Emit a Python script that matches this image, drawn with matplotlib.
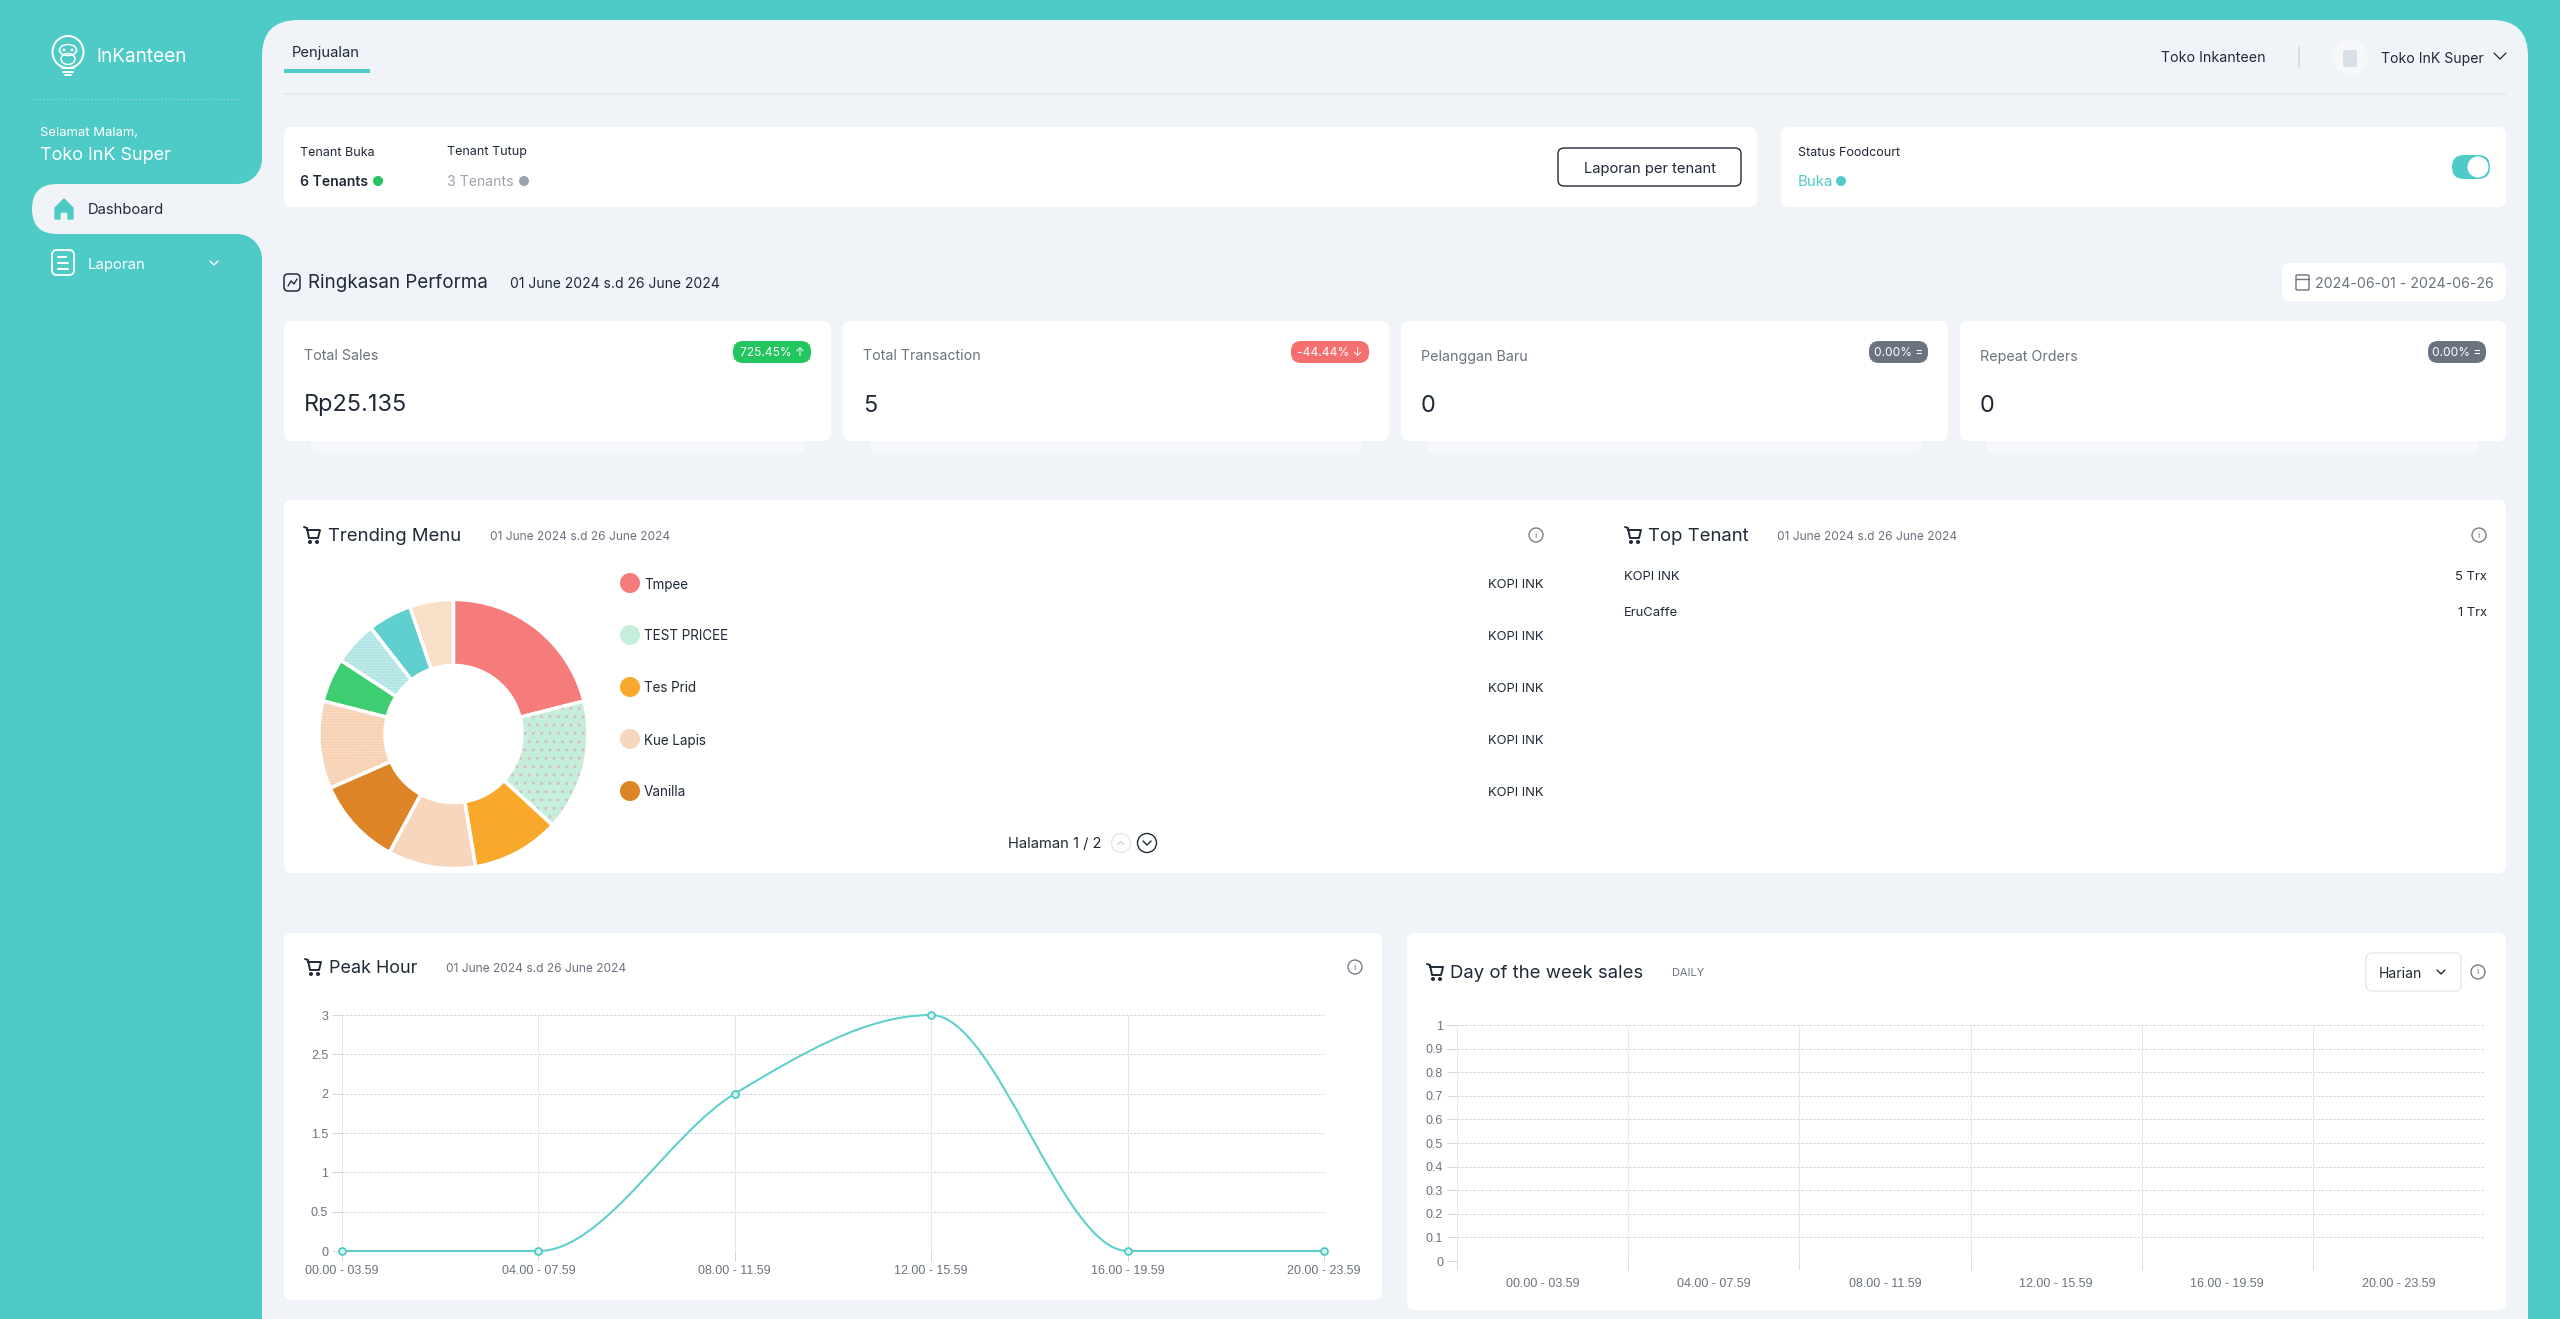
import matplotlib
matplotlib.use('Agg')
import matplotlib.pyplot as plt
from matplotlib.patches import FancyBboxPatch, Circle, Ellipse, Rectangle, PathPatch, Polygon
from matplotlib.path import Path

W, H = 2560, 1319
TEAL = '#4fcbc7'
PANEL = '#f0f4f9'
DARK = '#1f2937'
GREY = '#6b7280'
UI_FONT = 'Inter'
CHART_FONT = 'Liberation Sans'

# chart data
menu_names = ['Tmpee', 'TEST PRICEE', 'Tes Prid', 'Kue Lapis', 'Vanilla']
menu_sold = [4, 3, 2, 2, 2, 2, 1, 1, 1, 1]
menu_colors = ['#f67b7b', '#c6efdb', '#f8a92b', '#f6d6bc', '#dd8526',
               '#fbdcc3', '#3fcd72', '#c8ecec', '#5fcfcf', '#f8dfc8']
menu_hatch = {1: '..', 5: '......', 7: '......'}
menu_hatch_color = {1: '#d5bcc6', 5: '#f3c7a5', 7: '#9adcdc'}

hour_labels = ['00.00 - 03.59', '04.00 - 07.59', '08.00 - 11.59',
               '12.00 - 15.59', '16.00 - 19.59', '20.00 - 23.59']
peak_values = [0, 0, 2, 3, 0, 0]
peak_ticks = [0, 0.5, 1, 1.5, 2, 2.5, 3]
peak_tick_labels = ['0', '0.5', '1', '1.5', '2', '2.5', '3']
day_ticks = [0, 0.1, 0.2, 0.3, 0.4, 0.5, 0.6, 0.7, 0.8, 0.9, 1]
day_tick_labels = ['0', '0.1', '0.2', '0.3', '0.4', '0.5', '0.6', '0.7', '0.8', '0.9', '1']

top_tenants = ['KOPI INK', 'EruCaffe']
top_tenant_trx = ['5 Trx', '1 Trx']

kpi_names = ['Total Sales', 'Total Transaction', 'Pelanggan Baru', 'Repeat Orders']
kpi_values = ['Rp25.135', '5', '0', '0']
kpi_badges = ['725.45% ↑', '-44.44% ↓', '0.00% =', '0.00% =']

fig = plt.figure(figsize=(W / 100, H / 100), dpi=100, facecolor=TEAL)
ui = fig.add_axes([0, 0, 1, 1])
ui.set_xlim(0, W)
ui.set_ylim(H, 0)
ui.axis('off')


def card(x0, y0, x1, y1, color='white', r=8, ec='none', lw=0, z=2):
    ui.add_patch(FancyBboxPatch((x0, y0), x1 - x0, y1 - y0,
                                boxstyle='round,pad=0,rounding_size=%g' % r,
                                fc=color, ec=ec, lw=lw, zorder=z))


def label(x, y, s, px=14, color=DARK, ha='left', weight='normal', z=6):
    return ui.text(x, y + 1.5, s, fontsize=px * 0.72, color=color, ha=ha, va='center',
                   fontweight=weight, family=[UI_FONT, 'DejaVu Sans'], zorder=z)


def dot(x, y, r, color, z=5):
    ui.add_patch(Circle((x, y), r, fc=color, ec='none', zorder=z))


def line(xs, ys, color=DARK, lw=1.2, z=5, **kw):
    ui.plot(xs, ys, color=color, lw=lw, zorder=z, solid_capstyle='round', **kw)


def chevron(x, y, size=5, color=DARK, lw=1.1, up=False):
    s = -1 if up else 1
    line([x - size, x, x + size], [y - s * size / 2, y + s * size / 2, y - s * size / 2], color, lw)


def cart(x, y):
    # x, y is the icon's top left
    line([x, x + 3, x + 5, x + 14, x + 16, x + 3],
         [y, y + 1, y + 11, y + 11, y + 3, y + 3], DARK, 1.4)
    dot(x + 6, y + 15, 2, DARK)
    dot(x + 13, y + 15, 2, DARK)


def info(x, y):
    ui.add_patch(Circle((x, y), 7, fc='none', ec='#6b7280', lw=0.9, zorder=5))
    label(x, y - 1.5, 'i', 9, GREY, ha='center')


# main panel and sidebar shapes
card(262, 20, 2528, 1400, PANEL, r=36, z=1)
card(32, 184, 300, 234, PANEL, r=25, z=1)
ui.add_patch(Rectangle((237, 159), 25, 25, fc=PANEL, ec='none', zorder=1))
ui.add_patch(Rectangle((237, 234), 25, 25, fc=PANEL, ec='none', zorder=1))
dot(237, 159, 25, TEAL, z=1.5)
dot(237, 259, 25, TEAL, z=1.5)

# sidebar: monkey bulb logo
ui.add_patch(Ellipse((68, 52), 31, 32, fc='none', ec='white', lw=1.4, zorder=5))
ui.add_patch(Ellipse((68, 50), 17, 11, fc='none', ec='white', lw=1.1, zorder=5))
ui.add_patch(Ellipse((68, 59), 14, 11, fc='none', ec='white', lw=1.1, zorder=5))
dot(64, 50, 1.5, 'white')
dot(72, 50, 1.5, 'white')
line([62, 74], [68, 68], 'white', 1.4)
line([63, 73], [71.5, 71.5], 'white', 1.4)
line([65, 71], [75, 75], 'white', 1.4)
label(96, 55, 'InKanteen', 19, 'white')
line([32, 241], [99, 99], '#86dcd8', 1, linestyle=':')
label(40, 132, 'Selamat Malam,', 13, 'white')
label(40, 154, 'Toko InK Super', 18, 'white')
ui.add_patch(Polygon([(55, 208), (64, 199), (73, 208), (73, 219), (68, 219), (68, 212),
                      (60, 212), (60, 219), (55, 219)], fc=TEAL, ec=TEAL, lw=1, zorder=5))
label(88, 209, 'Dashboard', 14.8)
card(52, 250, 74, 275, 'none', r=5, ec='white', lw=1.3, z=5)
line([58, 66], [257, 257], 'white', 1.5)
line([58, 68], [263, 263], 'white', 1.5)
line([58, 68], [269, 269], 'white', 1.5)
label(88, 263, 'Laporan', 15, 'white')
chevron(214, 263, 4, 'white', 1)

# top bar
label(292, 51, 'Penjualan', 14.8)
ui.add_patch(Rectangle((284, 69), 86, 4, fc=TEAL, ec='none', zorder=5))
ui.add_patch(Rectangle((284, 93), 2222, 2, fc='#e5e9ee', ec='none', zorder=3))
label(2161, 57, 'Toko Inkanteen', 14.2)
line([2299, 2299], [47, 67], '#d5d9df', 1.2)
dot(2350, 57, 18, '#f6f8fa', z=3)
card(2343, 50, 2357, 67, '#d9dfe7', r=2, z=4)
label(2381, 57, 'Toko InK Super', 14)
chevron(2500, 56, 6, DARK, 0.9)

# status cards
card(284, 127, 1757, 207)
label(300, 151, 'Tenant Buka', 12.5)
label(300, 181, '6 Tenants', 14, weight='semibold')
dot(378, 181, 5, '#22c55e')
label(447, 151, 'Tenant Tutup', 12.5)
label(447, 181, '3 Tenants', 14, '#9ca3af')
dot(524, 181, 5, '#9ca3af')
card(1558, 148, 1741, 186, 'white', r=6, ec=DARK, lw=1, z=3)
label(1650, 167, 'Laporan per tenant', 14.7, ha='center')

card(1781, 127, 2506, 207)
label(1798, 151, 'Status Foodcourt', 12.5)
label(1798, 181, 'Buka', 15, TEAL)
dot(1841, 181, 5, TEAL)
card(2452, 155, 2490, 179, TEAL, r=12, z=3)
dot(2478, 167, 10.5, 'white')

# performance summary
card(284, 274, 300, 291, 'none', r=4, ec=DARK, lw=1.1, z=5)
line([288, 291, 294, 297], [286, 281, 284, 279], DARK, 1)
label(308, 282, 'Ringkasan Performa', 18.8)
label(510, 282, '01 June 2024 s.d 26 June 2024', 13.9)
card(2282, 263, 2506, 301)
card(2296, 275, 2309, 290, 'none', r=1, ec=GREY, lw=1, z=5)
line([2296, 2309], [279, 279], GREY, 1)
label(2315, 282, '2024-06-01 - 2024-06-26', 14.1, GREY)

kpi_x0 = [284, 843, 1401, 1960]
kpi_x1 = [831, 1389, 1948, 2506]
badge_x0 = [733, 1291, 1869, 2428]
badge_x1 = [811, 1369, 1928, 2486]
badge_colors = ['#22c55e', '#f66f6f', GREY, GREY]
for i in range(4):
    card(kpi_x0[i] + 27, 430, kpi_x1[i] - 27, 453, '#f6f8fb', r=6, z=1.6)
    card(kpi_x0[i], 321, kpi_x1[i], 441)
    label(kpi_x0[i] + 20, 355, kpi_names[i], 14.3, GREY)
    label(kpi_x0[i] + 20, 404, kpi_values[i], 23.5)
    card(badge_x0[i], 341, badge_x1[i], 363, badge_colors[i], r=10, z=3)
    label((badge_x0[i] + badge_x1[i]) / 2, 351, kpi_badges[i], 12, 'white', ha='center')

# trending menu and top tenant
card(284, 500, 2506, 873)
cart(304, 527)
label(328, 535, 'Trending Menu', 18.5)
label(490, 535, '01 June 2024 s.d 26 June 2024', 12, GREY)
info(1536, 535)

pie_ax = fig.add_axes([(453.5 - 134.5) / W, 1 - (734 + 134.5) / H, 269 / W, 269 / H])
wedges, _ = pie_ax.pie(menu_sold, colors=menu_colors, startangle=90, counterclock=False, radius=1,
                       wedgeprops=dict(width=0.49, linewidth=0))
matplotlib.rcParams['hatch.linewidth'] = 0.4
for i, hatch in menu_hatch.items():
    wedges[i].set_hatch(hatch)
    wedges[i].set_edgecolor(menu_hatch_color[i])
pie_ax.pie(menu_sold, colors=['none'] * len(menu_sold), startangle=90, counterclock=False, radius=1,
           wedgeprops=dict(width=0.49, linewidth=2.4, edgecolor='white'))
pie_ax.set_xlim(-1.0, 1.0)
pie_ax.set_ylim(-1.0, 1.0)

legend_y = [583, 635, 687, 739, 791]
for i, name in enumerate(menu_names):
    dot(630, legend_y[i], 10, menu_colors[i])
    label(644, legend_y[i], name, 13.5)
    label(1543, legend_y[i], 'KOPI INK', 13, ha='right')

label(1008, 843, 'Halaman 1 / 2', 14.7)
ui.add_patch(Circle((1121, 843), 9.5, fc='none', ec='#e5e7eb', lw=1, zorder=5))
chevron(1121, 843, 3, '#d1d5db', 0.9, up=True)
ui.add_patch(Circle((1147, 843), 9.5, fc='none', ec=DARK, lw=1, zorder=5))
chevron(1147, 843, 4, DARK, 1)

cart(1625, 527)
label(1648, 535, 'Top Tenant', 18.5)
label(1777, 535, '01 June 2024 s.d 26 June 2024', 12, GREY)
info(2479, 535)
tenant_y = [575, 611]
for i in range(len(top_tenants)):
    label(1624, tenant_y[i], top_tenants[i], 13)
    label(2487, tenant_y[i], top_tenant_trx[i], 13, ha='right')

# peak hour
card(284, 933, 1382, 1300)
cart(305, 959)
label(329, 967, 'Peak Hour', 18)
label(446, 967, '01 June 2024 s.d 26 June 2024', 12, GREY)
info(1355, 967)


def chart_axes(x0, y0, x1, y1):
    ax = fig.add_axes([x0 / W, 1 - y1 / H, (x1 - x0) / W, (y1 - y0) / H], facecolor='none')
    for side in ['top', 'right', 'bottom', 'left']:
        ax.spines[side].set_visible(False)
    ax.set_axisbelow(True)
    ax.tick_params(axis='both', labelsize=9, labelcolor=GREY, color='#d1d5db', width=0.7, length=7, pad=3)
    return ax


def style_grid(ax, ticks, x_positions):
    for t in ticks:
        ax.axhline(t, color='#c3ccd8' if t else '#9aa2ad', lw=0.72, linestyle=(0, (2, 2)), zorder=1)
    for xp in x_positions:
        ax.axvline(xp, color='#e5e7eb', lw=0.7, zorder=1)


def monotone_path(ys):
    # same curve the web chart uses: monotone cubic through the values
    xs = list(range(len(ys)))
    sec = [ys[i + 1] - ys[i] for i in range(len(ys) - 1)]
    slope = [0.0] * len(ys)
    for i in range(1, len(ys) - 1):
        if sec[i - 1] * sec[i] > 0:
            slope[i] = 2 * min(abs(sec[i - 1]), abs(sec[i]), abs(sec[i - 1] + sec[i]) / 4) * (1 if sec[i] > 0 else -1)
    verts = [(xs[0], ys[0])]
    codes = [Path.MOVETO]
    for i in range(len(ys) - 1):
        verts += [(xs[i] + 1 / 3, ys[i] + slope[i] / 3), (xs[i + 1] - 1 / 3, ys[i + 1] - slope[i + 1] / 3), (xs[i + 1], ys[i + 1])]
        codes += [Path.CURVE4] * 3
    return Path(verts, codes)


peak_ax = chart_axes(342, 1015, 1324, 1251)
peak_ax.set_xlim(0, 5)
peak_ax.set_ylim(0, 3)
style_grid(peak_ax, peak_ticks, range(len(hour_labels)))
peak_ax.add_patch(PathPatch(monotone_path(peak_values), fc='none', ec='#5fd0cc', lw=1.5, zorder=3, clip_on=False))
peak_ax.plot(range(len(peak_values)), peak_values, linestyle='none', marker='o', ms=5, mfc='#d8f3f2',
             mec=TEAL, mew=1.3, clip_on=False, zorder=4)
peak_ax.set_xticks(range(len(hour_labels)))
peak_ax.set_xticklabels(hour_labels, fontfamily=CHART_FONT)
peak_ax.set_yticks(peak_ticks)
peak_ax.set_yticklabels(peak_tick_labels, fontfamily=CHART_FONT)

# day of the week sales
card(1407, 933, 2506, 1310)
cart(1427, 964)
label(1450, 972, 'Day of the week sales', 18.5)
label(1672, 972, 'DAILY', 11, GREY)
card(2366, 953, 2461, 991, 'white', r=6, ec='#e5e7eb', lw=1, z=3)
label(2379, 972, 'Harian', 14)
chevron(2441, 972, 4, DARK, 1)
info(2478, 972)

day_ax = chart_axes(1457, 1025, 2484, 1261)
day_ax.set_xlim(0, len(hour_labels))
day_ax.set_ylim(0, 1)
style_grid(day_ax, day_ticks, range(len(hour_labels)))
day_ax.set_xticks([i + 0.5 for i in range(len(hour_labels))])
day_ax.set_xticklabels(hour_labels, fontfamily=CHART_FONT)
day_ax.tick_params(axis='x', length=0, pad=12)
day_ax.set_yticks(day_ticks)
day_ax.set_yticklabels(day_tick_labels, fontfamily=CHART_FONT)
for xp in range(len(hour_labels)):
    day_ax.plot([xp, xp], [0, -0.034], color='#d8dbe0', lw=0.7, clip_on=False)

fig.savefig('out.png', dpi=100, facecolor=TEAL)
